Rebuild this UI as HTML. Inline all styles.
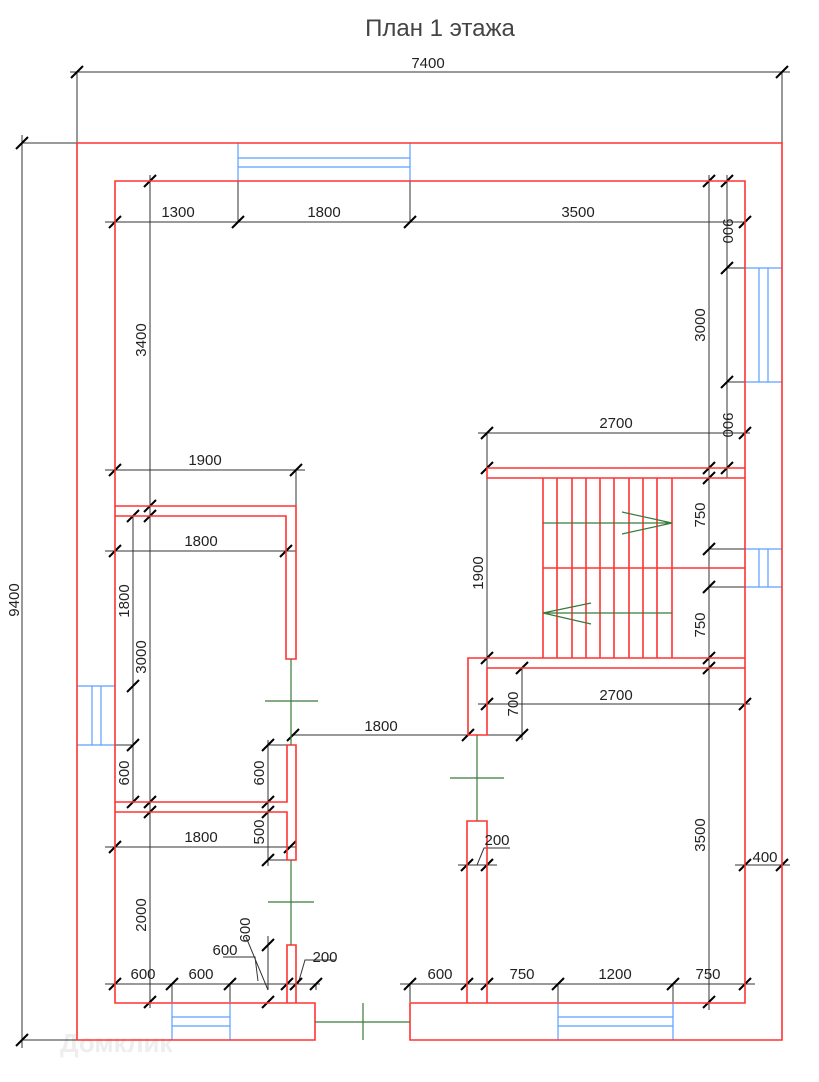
<!DOCTYPE html>
<html><head><meta charset="utf-8"><style>
html,body{margin:0;padding:0;background:#fff}
svg{display:block}
text{font-family:"Liberation Sans",sans-serif;font-size:15px;fill:#222}
</style></head><body>
<svg width="819" height="1082" viewBox="0 0 819 1082" xmlns="http://www.w3.org/2000/svg">
<defs><line id="t" x1="-6" y1="6" x2="6" y2="-6" stroke="#000" stroke-width="2"/></defs>
<text x="440" y="36" font-size="24" text-anchor="middle" style="font-size:24px;fill:#444">План 1 этажа</text>
<text x="60" y="1052" style="font-size:26px;fill:#eee;font-weight:bold">Домклик</text>

<!-- dimension lines -->
<g stroke="#333" stroke-width="1" fill="none">
<path d="M70 72H790M77 72V143M782 72V143"/>
<path d="M22 135V1048M22 143H77M22 1040H77"/>
<path d="M105 222H745M238 181V222M410 181V222"/>
<path d="M150 175V1008"/>
<path d="M133 516V802M133 745H115"/>
<path d="M105 470H305M296 470V506"/>
<path d="M105 551H296"/>
<path d="M105 847H296"/>
<path d="M268 740V866M268 745H287M268 860H287"/>
<path d="M105 984H320M172 984V1002M230 984V1002M316 984V990"/>
<path d="M400 984H755M558 984V1002M673 984V1002M410 984V1002"/>
<path d="M291 735H470"/>
<path d="M478 433H750M487 433V468"/>
<path d="M478 704H750"/>
<path d="M522 668V740M487 735H522"/>
<path d="M487 478V668"/>
<path d="M709 175V1010"/>
<path d="M727 175V478M727 268H745M727 382H745"/>
<path d="M709 549H745M709 587H745"/>
<path d="M735 865H790"/>
<path d="M458 865H497"/>
<path d="M223 957H255L258 981M246 937L268 990M268 936V990"/>
<path d="M298 984L305 960H335"/>
<path d="M477 865L484 848H510"/>
</g>

<!-- ticks -->
<g>
<use href="#t" x="77" y="72"/><use href="#t" x="782" y="72"/>
<use href="#t" x="22" y="143"/><use href="#t" x="22" y="1040"/>
<use href="#t" x="115" y="222"/><use href="#t" x="238" y="222"/><use href="#t" x="410" y="222"/><use href="#t" x="745" y="222"/>
<use href="#t" x="150" y="181"/><use href="#t" x="150" y="506"/><use href="#t" x="150" y="516"/><use href="#t" x="150" y="802"/><use href="#t" x="150" y="812"/><use href="#t" x="150" y="1002"/>
<use href="#t" x="133" y="516"/><use href="#t" x="133" y="686"/><use href="#t" x="133" y="745"/><use href="#t" x="133" y="802"/>
<use href="#t" x="115" y="470"/><use href="#t" x="296" y="470"/>
<use href="#t" x="115" y="551"/><use href="#t" x="286" y="551"/>
<use href="#t" x="115" y="847"/><use href="#t" x="290" y="847"/>
<use href="#t" x="268" y="745"/><use href="#t" x="268" y="802"/><use href="#t" x="268" y="812"/><use href="#t" x="268" y="860"/>
<use href="#t" x="268" y="945"/><use href="#t" x="268" y="1002"/>
<use href="#t" x="115" y="984"/><use href="#t" x="172" y="984"/><use href="#t" x="230" y="984"/><use href="#t" x="287" y="984"/><use href="#t" x="296" y="984"/><use href="#t" x="316" y="984"/>
<use href="#t" x="410" y="984"/><use href="#t" x="467" y="984"/><use href="#t" x="487" y="984"/><use href="#t" x="558" y="984"/><use href="#t" x="673" y="984"/><use href="#t" x="745" y="984"/>
<use href="#t" x="293" y="735"/><use href="#t" x="468" y="735"/>
<use href="#t" x="487" y="433"/><use href="#t" x="745" y="433"/>
<use href="#t" x="487" y="704"/><use href="#t" x="745" y="704"/>
<use href="#t" x="487" y="468"/><use href="#t" x="487" y="658"/>
<use href="#t" x="522" y="668"/><use href="#t" x="522" y="735"/>
<use href="#t" x="709" y="181"/><use href="#t" x="709" y="468"/><use href="#t" x="709" y="478"/><use href="#t" x="709" y="549"/><use href="#t" x="709" y="587"/><use href="#t" x="709" y="658"/><use href="#t" x="709" y="668"/><use href="#t" x="709" y="1002"/>
<use href="#t" x="727" y="181"/><use href="#t" x="727" y="268"/><use href="#t" x="727" y="382"/><use href="#t" x="727" y="468"/>
<use href="#t" x="745" y="865"/><use href="#t" x="782" y="865"/>
<use href="#t" x="467" y="865"/><use href="#t" x="487" y="865"/>
</g>

<!-- windows -->
<g stroke="#5aa0ff" stroke-width="1.2" fill="none">
<path d="M238 143V181M410 143V181M238 158H410M238 167H410"/>
<path d="M745 268H782M745 382H782M759 268V382M768 268V382"/>
<path d="M745 549H782M745 587H782M759 549V587M768 549V587"/>
<path d="M77 686H115M77 745H115M92 686V745M101 686V745"/>
<path d="M172 1003V1040M230 1003V1040M172 1017H230M172 1026H230"/>
<path d="M558 1003V1040M673 1003V1040M558 1017H673M558 1026H673"/>
</g>

<!-- walls -->
<g stroke="#f33" stroke-width="1.6" fill="none">
<path d="M77 143H782V1040H410V1003H745V181H115V1003H315V1040H77Z"/>
<path d="M115 506H296V659H286V516H115"/>
<path d="M287 745H296V860H287V812H115M115 802H287V745"/>
<path d="M287 1003V945H296V1003"/>
<path d="M745 468H487V478H745"/>
<path d="M543 478V658M557 478V658M572 478V658M586 478V658M600 478V658M614 478V658M629 478V658M643 478V658M657 478V658M672 478V658M543 568H745"/>
<path d="M745 658H468V735H487V668H745"/>
<path d="M467 1003V821H487V1003"/>
</g>

<!-- green -->
<g stroke="#3a7a3a" stroke-width="1.2" fill="none">
<path d="M291 659V745M265 701H318"/>
<path d="M291 860V945M268 902H314"/>
<path d="M477 735V821M450 778H504"/>
<path d="M315 1022H410M363 1003V1040"/>
<path d="M543 523H672M622 512L672 523L622 534"/>
<path d="M543 613H672M591 603L543 613L591 624"/>
</g>

<!-- labels -->
<text x="428" y="68" text-anchor="middle">7400</text>
<text transform="translate(19,600) rotate(-90)" text-anchor="middle">9400</text>
<text x="178" y="217" text-anchor="middle">1300</text>
<text x="324" y="217" text-anchor="middle">1800</text>
<text x="578" y="217" text-anchor="middle">3500</text>
<text transform="translate(146,340) rotate(-90)" text-anchor="middle">3400</text>
<text transform="translate(146,657) rotate(-90)" text-anchor="middle">3000</text>
<text transform="translate(146,915) rotate(-90)" text-anchor="middle">2000</text>
<text transform="translate(129,601) rotate(-90)" text-anchor="middle">1800</text>
<text transform="translate(129,773) rotate(-90)" text-anchor="middle">600</text>
<text x="205" y="465" text-anchor="middle">1900</text>
<text x="201" y="546" text-anchor="middle">1800</text>
<text x="201" y="842" text-anchor="middle">1800</text>
<text transform="translate(264,773) rotate(-90)" text-anchor="middle">600</text>
<text transform="translate(264,832) rotate(-90)" text-anchor="middle">500</text>
<text x="143" y="979" text-anchor="middle">600</text>
<text x="201" y="979" text-anchor="middle">600</text>
<text x="225" y="955" text-anchor="middle">600</text>
<text transform="translate(250,930) rotate(-90)" text-anchor="middle">600</text>
<text x="325" y="962" text-anchor="middle">200</text>
<text x="440" y="979" text-anchor="middle">600</text>
<text x="522" y="979" text-anchor="middle">750</text>
<text x="615" y="979" text-anchor="middle">1200</text>
<text x="708" y="979" text-anchor="middle">750</text>
<text x="381" y="731" text-anchor="middle">1800</text>
<text x="616" y="428" text-anchor="middle">2700</text>
<text x="616" y="700" text-anchor="middle">2700</text>
<text transform="translate(518,704) rotate(-90)" text-anchor="middle">700</text>
<text transform="translate(483,573) rotate(-90)" text-anchor="middle">1900</text>
<text transform="translate(705,325) rotate(-90)" text-anchor="middle">3000</text>
<text transform="translate(705,835) rotate(-90)" text-anchor="middle">3500</text>
<text transform="translate(705,515) rotate(-90)" text-anchor="middle">750</text>
<text transform="translate(705,625) rotate(-90)" text-anchor="middle">750</text>
<text transform="translate(723,231) rotate(90)" text-anchor="middle">900</text>
<text transform="translate(723,425) rotate(90)" text-anchor="middle">900</text>
<text x="765" y="862" text-anchor="middle">400</text>
<text x="497" y="845" text-anchor="middle">200</text>
</svg>
</body></html>
